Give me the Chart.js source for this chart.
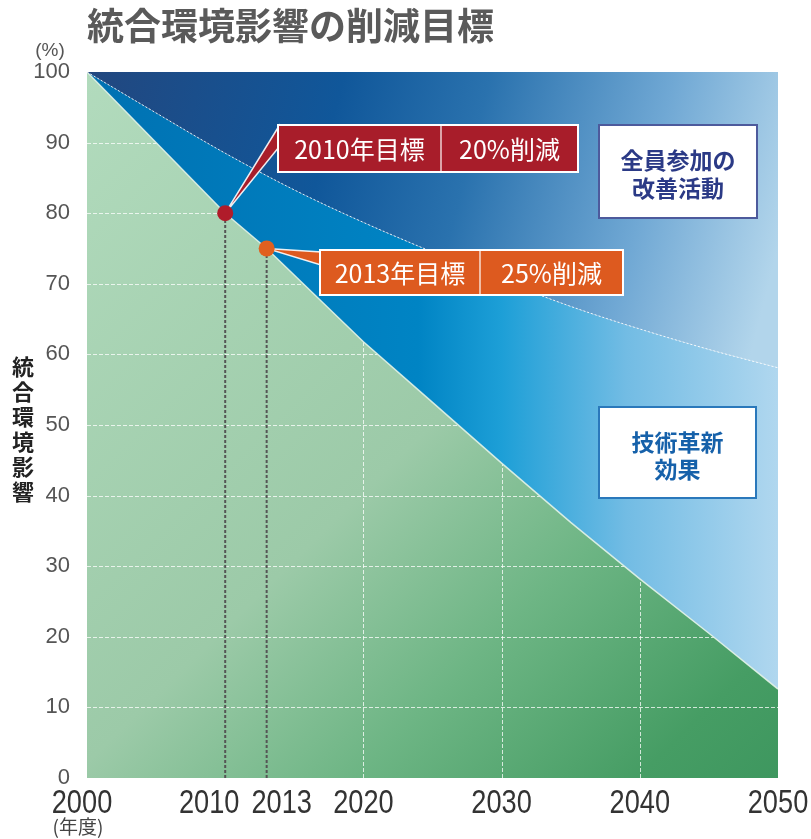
<!DOCTYPE html>
<html lang="ja">
<head>
<meta charset="utf-8">
<title>統合環境影響の削減目標</title>
<script src="https://cdn.jsdelivr.net/npm/chart.js@4.4.1/dist/chart.umd.min.js"></script>
<style>
  html, body { margin: 0; padding: 0; background: #fff; }
  #wrap { position: relative; width: 811px; height: 839px; }
  canvas { display: block; }
</style>
</head>
<body>
<div id="wrap"><canvas id="chart" width="811" height="839"></canvas></div>
<script>
// ---- data -------------------------------------------------------------
// 改善活動だけで進めた場合の推移（%）
const curveYears = [2000, 2005, 2010, 2015, 2020, 2025, 2030, 2035, 2040, 2045, 2050];
const activityOnly = [100, 94.2, 88.5, 83.3, 78.7, 74.5, 70.5, 66.8, 63.6, 60.7, 58.1];

// 削減目標ライン（%）
const targetYears = [2000, 2010, 2013, 2020, 2025, 2030, 2035, 2040, 2045, 2050];
const targetPath = [100, 80, 75, 61.8, 53.2, 44.6, 36.2, 28.2, 20.5, 12.6];

// 中間目標（削減率 %）
const milestoneYears = [2010, 2013];
const milestoneCuts = [20, 25];
const milestoneValues = milestoneCuts.map(c => 100 - c);
const milestoneNames = milestoneYears.map(y => y + '年目標');
const milestoneLabels = milestoneCuts.map(c => c + '%削減');

// 軸
const xTicks = [2000, 2010, 2013, 2020, 2030, 2040, 2050];
const yTicks = [0, 10, 20, 30, 40, 50, 60, 70, 80, 90, 100];
const xGridYears = [2020, 2030, 2040];

// 領域の説明
const activityNote = ['全員参加の', '改善活動'];
const technologyNote = ['技術革新', '効果'];

// ---- styling ----------------------------------------------------------
const CJK = '"Noto Sans CJK JP", "Noto Sans CJK SC", sans-serif';
const NUM = '"Liberation Sans", Arial, sans-serif';
const milestoneDot = ['#b01c2a', '#e0601f'];
const milestoneBox = ['#a81d2a', '#dd5a1f'];

// 2010 and 2013 sit close together, so their year labels are nudged apart (px)
const yearNudge = { 2000: -5, 2010: -16, 2013: 15 };

function areaGradient(chart, x0, y0, x1, y1, stops) {
  const a = chart.chartArea;
  if (!a) return 'transparent';
  const g = chart.ctx.createLinearGradient(
    a.left + a.width * x0, a.top + a.height * y0,
    a.left + a.width * x1, a.top + a.height * y1);
  stops.forEach(([o, c]) => g.addColorStop(o, c));
  return g;
}

const topStops = [[0, '#22477f'], [0.35, '#10579a'], [0.55, '#2a72ae'], [0.8, '#70a8d4'], [1, '#b2d5eb']];
const midStops = [[0, '#0071b2'], [0.48, '#0084c4'], [0.6, '#1d9fd7'], [0.78, '#72bce4'], [1, '#b0d7ef']];
const greenStops = [[0, '#b2dbbd'], [0.5, '#9ccaa8'], [0.7, '#6db584'], [0.9, '#469d64'], [1, '#3e975f']];

const GREEN_FILL = 5;

// white dashed grid, drawn right after the green area so the blue areas cover it
const gridUnderlay = {
  id: 'gridUnderlay',
  afterDatasetDraw(chart, args) {
    if (args.index !== GREEN_FILL) return;
    const { ctx, chartArea: a, scales: { x, y } } = chart;
    ctx.save();
    ctx.beginPath();
    ctx.rect(a.left, a.top, a.width, a.height);
    ctx.clip();
    ctx.strokeStyle = 'rgba(255,255,255,0.75)';
    ctx.lineWidth = 1;
    ctx.setLineDash([4, 2]);
    yTicks.forEach(v => {
      if (v <= 0 || v >= 100) return;
      const py = Math.round(y.getPixelForValue(v)) + 0.5;
      ctx.beginPath(); ctx.moveTo(a.left, py); ctx.lineTo(a.right, py); ctx.stroke();
    });
    xGridYears.forEach(v => {
      const px = Math.round(x.getPixelForValue(v)) + 0.5;
      ctx.beginPath(); ctx.moveTo(px, a.top); ctx.lineTo(px, a.bottom); ctx.stroke();
    });
    ctx.restore();
  }
};

// condensed year labels under the x axis
const yearLabels = {
  id: 'yearLabels',
  afterDraw(chart) {
    const { ctx, chartArea: a, scales: { x } } = chart;
    ctx.save();
    ctx.fillStyle = '#333';
    ctx.font = '34px ' + NUM;
    ctx.textAlign = 'center';
    ctx.textBaseline = 'middle';
    xTicks.forEach(v => {
      ctx.save();
      ctx.translate(x.getPixelForValue(v) + (yearNudge[v] || 0), a.bottom + 26);
      ctx.scale(0.8, 1);
      ctx.fillText(String(v), 0, 0);
      ctx.restore();
    });
    ctx.restore();
  }
};

// callout boxes, leaders and area notes
const boxes = [
  { left: 278, top: 125, right: 578, bottom: 172, split: 441, leader: [[279, 126], [279, 147]] },
  { left: 320, top: 250, right: 623, bottom: 295, split: 480, leader: [[321, 252], [321, 265]] }
];
const notes = [
  { rect: [599, 125, 757, 218], lines: activityNote, ys: [160, 188], border: '#4d5a9c', color: '#2b3a86' },
  { rect: [599, 407, 756, 498], lines: technologyNote, ys: [442, 469], border: '#2a78bb', color: '#1661aa' }
];

const annotations = {
  id: 'annotations',
  beforeDatasetDraw(chart, args) {
    if (args.index !== 0) return;
    const { ctx, scales: { x, y } } = chart;
    ctx.save();
    milestoneYears.forEach((yr, i) => {
      const px = x.getPixelForValue(yr), py = y.getPixelForValue(milestoneValues[i]);
      const [[ax, ay], [bx, by]] = boxes[i].leader;
      ctx.beginPath();
      ctx.moveTo(px, py); ctx.lineTo(ax, ay); ctx.lineTo(bx, by); ctx.closePath();
      ctx.fillStyle = milestoneBox[i];
      ctx.fill();
      ctx.strokeStyle = 'rgba(255,255,255,0.9)';
      ctx.lineWidth = 1.5;
      ctx.stroke();
    });
    ctx.restore();
  },
  afterDraw(chart) {
    const { ctx } = chart;
    ctx.save();
    // callout boxes
    boxes.forEach((b, i) => {
      ctx.fillStyle = milestoneBox[i];
      ctx.fillRect(b.left, b.top, b.right - b.left, b.bottom - b.top);
      ctx.strokeStyle = '#ffffff';
      ctx.lineWidth = 2;
      ctx.strokeRect(b.left, b.top, b.right - b.left, b.bottom - b.top);
      ctx.lineWidth = 1.2;
      ctx.beginPath(); ctx.moveTo(b.split, b.top); ctx.lineTo(b.split, b.bottom); ctx.stroke();
      ctx.fillStyle = '#ffffff';
      ctx.font = '25px ' + CJK;
      ctx.textAlign = 'center';
      ctx.textBaseline = 'middle';
      const cy = (b.top + b.bottom) / 2 + 1;
      ctx.fillText(milestoneNames[i], (b.left + b.split) / 2, cy);
      ctx.fillText(milestoneLabels[i], (b.split + b.right) / 2, cy);
    });
    // area notes
    notes.forEach(n => {
      const [l, t, r, btm] = n.rect;
      ctx.fillStyle = '#ffffff';
      ctx.fillRect(l, t, r - l, btm - t);
      ctx.strokeStyle = n.border;
      ctx.lineWidth = 2;
      ctx.strokeRect(l, t, r - l, btm - t);
      ctx.fillStyle = n.color;
      ctx.font = 'bold 23px ' + CJK;
      ctx.textAlign = 'center';
      ctx.textBaseline = 'middle';
      n.lines.forEach((s, k) => ctx.fillText(s, (l + r) / 2, n.ys[k]));
    });
    // title
    ctx.fillStyle = '#5a5a5a';
    ctx.font = 'bold 37px ' + CJK;
    ctx.textAlign = 'left';
    ctx.textBaseline = 'middle';
    ctx.fillText('統合環境影響の削減目標', 87, 26);
    // unit labels
    ctx.fillStyle = '#555';
    ctx.font = '19px ' + NUM;
    ctx.textAlign = 'center';
    ctx.fillText('(%)', 50, 51);
    ctx.font = '19px ' + CJK;
    ctx.fillStyle = '#444';
    ctx.fillText('(年度)', 78, 827);
    // vertical axis title, upright characters
    ctx.fillStyle = '#222';
    ctx.font = 'bold 22px ' + CJK;
    Array.from('統合環境影響').forEach((ch, k) => ctx.fillText(ch, 23, 367 + k * 25));
    ctx.restore();
  }
};

const dropLine = i => ({
  data: [{ x: milestoneYears[i], y: 0 }, { x: milestoneYears[i], y: milestoneValues[i] }],
  borderColor: '#555555',
  borderWidth: 2,
  borderDash: [3, 2],
  pointRadius: 0,
  fill: false,
  order: 3
});

new Chart(document.getElementById('chart'), {
  type: 'line',
  data: {
    datasets: [
      { // 0: milestone dots
        data: milestoneYears.map((yr, i) => ({ x: yr, y: milestoneValues[i] })),
        showLine: false,
        pointRadius: 8,
        pointHoverRadius: 8,
        pointBorderWidth: 0,
        pointBackgroundColor: milestoneDot,
        fill: false,
        order: 0
      },
      { // 1: improvement-activity curve, area above it
        data: curveYears.map((yr, i) => ({ x: yr, y: activityOnly[i] })),
        cubicInterpolationMode: 'monotone',
        borderColor: 'rgba(255,255,255,0.85)',
        borderWidth: 1,
        borderDash: [2, 2],
        pointRadius: 0,
        fill: 'end',
        backgroundColor: c => areaGradient(c.chart, 0, 0, 1, 0.25, topStops),
        order: 1
      },
      { // 2: target path, band up to the activity curve
        data: targetYears.map((yr, i) => ({ x: yr, y: targetPath[i] })),
        borderColor: 'rgba(225,242,230,0.9)',
        borderWidth: 1.5,
        pointRadius: 0,
        fill: 1,
        backgroundColor: c => areaGradient(c.chart, 0, 0, 1, 0, midStops),
        order: 2
      },
      dropLine(0), // 3
      dropLine(1), // 4
      { // 5: target path, area down to zero
        data: targetYears.map((yr, i) => ({ x: yr, y: targetPath[i] })),
        borderWidth: 0,
        borderColor: 'transparent',
        pointRadius: 0,
        fill: 'origin',
        backgroundColor: c => areaGradient(c.chart, 0, 0, 1, 1, greenStops),
        order: 5
      }
    ]
  },
  options: {
    responsive: false,
    animation: false,
    events: [],
    layout: { padding: { left: 0, top: 72, right: 33, bottom: 0 } },
    plugins: {
      legend: { display: false },
      tooltip: { enabled: false },
      title: { display: false }
    },
    scales: {
      x: {
        type: 'linear',
        min: 2000,
        max: 2050,
        afterBuildTicks: s => { s.ticks = xTicks.map(v => ({ value: v })); },
        afterFit: s => { s.height = 61; },
        grid: { display: false, drawTicks: false },
        border: { display: false },
        ticks: { display: false }
      },
      y: {
        type: 'linear',
        min: 0,
        max: 100,
        afterBuildTicks: s => { s.ticks = yTicks.map(v => ({ value: v })); },
        afterFit: s => { s.width = 87; },
        grid: { display: false, drawTicks: false },
        border: { display: false },
        ticks: {
          padding: 17,
          color: '#555',
          font: { family: NUM, size: 22 }
        }
      }
    }
  },
  plugins: [gridUnderlay, yearLabels, annotations]
});
</script>
</body>
</html>
